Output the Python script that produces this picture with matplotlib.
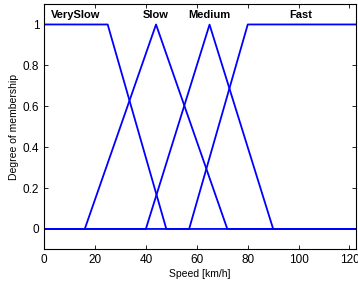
import numpy as np
import matplotlib
matplotlib.use("Agg")
import matplotlib.pyplot as plt

plt.rcParams["font.family"] = ["Liberation Sans", "DejaVu Sans"]

# Membership function breakpoints (speed in km/h) and membership values
mf_names = ["VerySlow", "Slow", "Medium", "Fast"]
mf_x = [
    [0, 25, 48],
    [16, 44, 72],
    [40, 65, 90],
    [57, 80, 122.5],
]
mf_y = [
    [1, 1, 0],
    [0, 1, 0],
    [0, 1, 0],
    [0, 1, 1],
]
label_x = [12.5, 44, 65, 101]

x_range = (0, 122.5)
y_ticks = [0, 0.2, 0.4, 0.6, 0.8, 1]
x_ticks = [0, 20, 40, 60, 80, 100, 120]

fig = plt.figure(figsize=(3.58, 2.87), dpi=100)
ax = fig.add_axes([0.123, 0.131, 0.871, 0.855])

xs = np.linspace(x_range[0], x_range[1], 2000)
for px, py in zip(mf_x, mf_y):
    ys = np.interp(xs, px, py, left=py[0], right=py[-1])
    ax.plot(xs, ys, color="#0000ff", lw=1.3)

for name, lx in zip(mf_names, label_x):
    ax.text(lx, 1.045, name, ha="center", va="center", fontsize=8, weight="bold")

ax.set_xlim(*x_range)
ax.set_ylim(-0.1, 1.1)
ax.set_xticks(x_ticks)
ax.set_yticks(y_ticks)
ax.set_yticklabels(["0", "0.2", "0.4", "0.6", "0.8", "1"])
ax.tick_params(direction="in", top=True, right=True, labelsize=8.5, length=3, width=0.6)
for s in ax.spines.values():
    s.set_linewidth(0.8)
ax.set_xlabel("Speed [km/h]", fontsize=7.5, labelpad=2)
ax.set_ylabel("Degree of membership", fontsize=7.5, labelpad=3)

fig.savefig("out.png", dpi=100)
